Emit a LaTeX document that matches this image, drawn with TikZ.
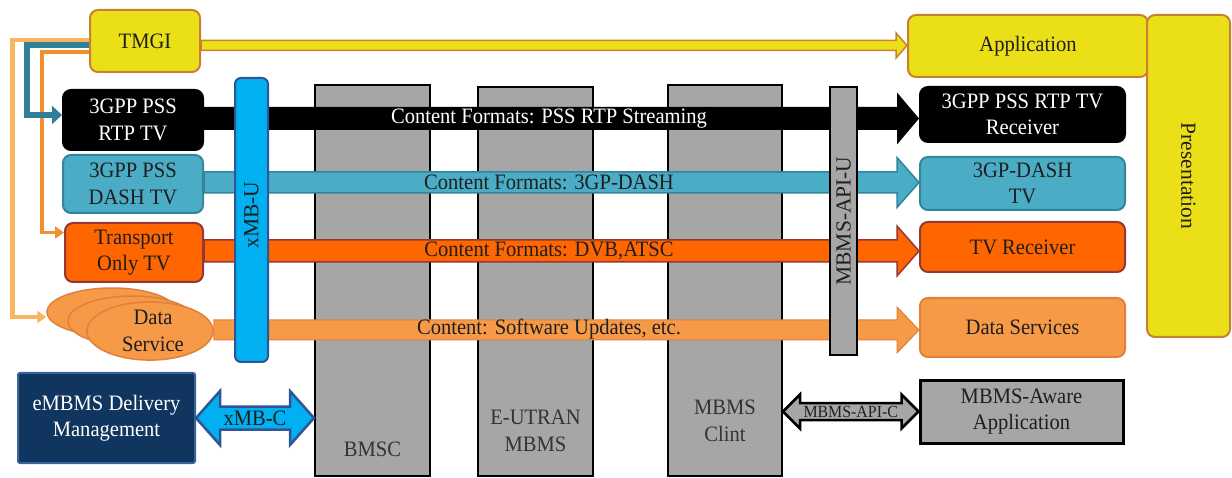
\documentclass[tikz,border=0pt]{standalone}
\usepackage{fontspec}
\setmainfont{Liberation Serif}[FakeStretch=0.935]
\newfontfamily\uprightfont{Liberation Serif}
\usetikzlibrary{calc,arrows.meta,shapes.geometric}

\definecolor{cYellow}{HTML}{EBE017}
\definecolor{cYellowEdge}{HTML}{C9812F}
\definecolor{cTeal}{HTML}{4BACC6}
\definecolor{cTealEdge}{HTML}{31859C}
\definecolor{cTealLine}{HTML}{2F7F99}
\definecolor{cOrange}{HTML}{FF6600}
\definecolor{cOrangeEdge}{HTML}{953735}
\definecolor{cLight}{HTML}{F79A48}
\definecolor{cLightEdge}{HTML}{E0803A}
\definecolor{cPale}{HTML}{F9B460}
\definecolor{cMid}{HTML}{F0902F}
\definecolor{cSky}{HTML}{00B0F0}
\definecolor{cSkyEdge}{HTML}{2F5597}
\definecolor{cGray}{HTML}{A6A6A6}
\definecolor{cNavy}{HTML}{10355F}
\definecolor{cNavyEdge}{HTML}{3A639A}
\definecolor{cInk}{HTML}{1E1E1E}
\definecolor{cColText}{HTML}{333333}

\pgfdeclarelayer{back}
\pgfdeclarelayer{mid}
\pgfsetlayers{back,mid,main}

% block arrow: #1 start, #2 tip, #3 shaft half height, #4 head half height, #5 head length, #6 style
\newcommand\flowarrow[6]{%
  \path[#6] let \p1=#1, \p2=#2 in
    (\x1,\y1+#3pt) -- (\x2-#5pt,\y1+#3pt) -- (\x2-#5pt,\y1+#4pt) -- (\x2,\y1)
    -- (\x2-#5pt,\y1-#4pt) -- (\x2-#5pt,\y1-#3pt) -- (\x1,\y1-#3pt) -- cycle;}

% double-headed block arrow, same arguments
\newcommand\twowayarrow[6]{%
  \path[#6] let \p1=#1, \p2=#2 in
    (\x1,\y1) -- (\x1+#5pt,\y1+#4pt) -- (\x1+#5pt,\y1+#3pt) -- (\x2-#5pt,\y1+#3pt)
    -- (\x2-#5pt,\y1+#4pt) -- (\x2,\y1) -- (\x2-#5pt,\y1-#4pt) -- (\x2-#5pt,\y1-#3pt)
    -- (\x1+#5pt,\y1-#3pt) -- (\x1+#5pt,\y1-#4pt) -- cycle;}

\tikzset{
  stdbox/.style={draw, rounded corners=8pt, line width=2pt, inner sep=0pt, align=center, text=cInk},
  yellowbox/.style={stdbox, fill=cYellow, draw=cYellowEdge},
  blackbox/.style={stdbox, fill=black, draw=black, text=white},
  tealbox/.style={stdbox, fill=cTeal, draw=cTealEdge},
  orangebox/.style={stdbox, fill=cOrange, draw=cOrangeEdge},
  lightbox/.style={stdbox, fill=cLight, draw=cLightEdge},
  servicecloud/.style={ellipse, draw=cLightEdge, fill=cLight, line width=1.5pt, inner sep=0pt, align=center, text=cInk},
  column/.style={rectangle, draw=black, line width=2pt, fill=cGray, inner sep=0pt},
  coltext/.style={align=center, text=cColText, inner sep=0pt},
  skybar/.style={rectangle, rounded corners=6pt, draw=cSkyEdge, line width=2pt, fill=cSky, inner sep=0pt},
  apibar/.style={rectangle, draw=black, line width=2pt, fill=cGray, inner sep=0pt},
  awarebox/.style={rectangle, draw=black, line width=3pt, fill=cGray, inner sep=0pt, align=center, text=cInk},
  navybox/.style={rectangle, rounded corners=2pt, draw=cNavyEdge, line width=2pt, fill=cNavy, inner sep=0pt, align=center, text=white},
  sidetext/.style={inner sep=0pt, text=cInk, font=\uprightfont\fontsize{21.5}{26}\selectfont},
  blackflow/.style={fill=black},
  tealflow/.style={fill=cTeal, draw=cTealEdge, line width=1.5pt},
  orangeflow/.style={fill=cOrange, draw=cOrangeEdge, line width=1.5pt},
  lightflow/.style={fill=cLight, draw=cLightEdge, line width=1pt},
  tmgiflow/.style={fill=cYellow, draw=cYellowEdge, line width=1.5pt},
  xmbcflow/.style={fill=cSky, draw=cSkyEdge, line width=2.5pt, line join=miter},
  apicflow/.style={fill=cGray, draw=black, line width=2.5pt, line join=miter},
  paleline/.style={draw=cPale, line width=4.5pt, -{Triangle[length=9pt,width=12pt]}},
  tealline/.style={draw=cTealLine, line width=6pt, -{Triangle[length=10pt,width=18pt]}},
  midline/.style={draw=cMid, line width=3.5pt, -{Triangle[length=9pt,width=12pt]}},
  flowtext/.style={inner sep=0pt, text=cInk},
}

\begin{document}
\begin{tikzpicture}[x=1pt, y=-1pt, font=\fontsize{22}{26.5}\selectfont]
\useasboundingbox (0,0) rectangle (1232,478);

% network columns behind the content flows
\begin{pgfonlayer}{back}
  \node[column, minimum width=115pt, minimum height=391pt] (bmsc)   at (372.5,280.5) {};
  \node[column, minimum width=115pt, minimum height=389pt] (eutran) at (535.5,281.5) {};
  \node[column, minimum width=114pt, minimum height=391pt] (clint)  at (725,280.5) {};
\end{pgfonlayer}
\node[coltext] at ([yshift=28pt]bmsc.south) {BMSC};
\node[coltext] at ([yshift=46pt]eutran.south) {E-UTRAN\\MBMS};
\node[coltext] at ([yshift=56pt]clint.south) {MBMS\\Clint};

% sources
\node[yellowbox, minimum width=110pt, minimum height=62pt] (tmgi) at (145,41) {TMGI};
\node[blackbox,  minimum width=140pt, minimum height=60pt] (rtp)  at (133,120) {3GPP PSS\\RTP TV};
\node[tealbox,   minimum width=140pt, minimum height=58pt] (dash) at (133,184) {3GPP PSS\\DASH TV};
\node[orangebox, minimum width=138pt, minimum height=59pt] (trans) at (134,252.5) {Transport\\Only TV};
\node[servicecloud, minimum width=130pt, minimum height=48pt] (e1) at (112,312) {};
\node[servicecloud, minimum width=128pt, minimum height=50pt] (e2) at (132,321) {};
\node[servicecloud, minimum width=126pt, minimum height=52pt] (e3) at (150,331) {\hspace*{6pt}Data\\\hspace*{6pt}Service};
\node[navybox, minimum width=177pt, minimum height=90pt] (embms) at (106.5,418) {eMBMS Delivery\\Management};

% receivers
\node[yellowbox, minimum width=240pt, minimum height=62pt] (app) at (1028,46) {Application};
\node[yellowbox, minimum width=83pt, minimum height=322pt] (pres) at (1188.5,176) {};
\node[sidetext, rotate=-90] at (pres.center) {Presentation};
\node[blackbox,  minimum width=205pt, minimum height=55pt] (rtprx)  at (1022.5,114.5) {3GPP PSS RTP TV\\Receiver};
\node[tealbox,   minimum width=205pt, minimum height=53pt] (dashrx) at (1022.5,183.5) {3GP-DASH\\TV};
\node[orangebox, minimum width=205pt, minimum height=50pt] (tvrx)   at (1022.5,247) {TV Receiver};
\node[lightbox,  minimum width=205pt, minimum height=59pt] (dsvc)   at (1022.5,327.5) {Data Services};
\node[awarebox,  minimum width=203pt, minimum height=63pt] (aware)  at (1021.5,411.5) {MBMS-Aware\\Application};

% interface bars
\node[skybar, minimum width=33pt, minimum height=284pt] (xmbu) at (251.5,220) {};
\node[sidetext, rotate=90] at ([yshift=5pt]xmbu.center) {xMB-U};
\node[apibar, minimum width=27pt, minimum height=268pt] (apiu) at (843.5,221) {};
\node[sidetext, rotate=90] at (apiu.center) {MBMS-API-U};

% content flows
\begin{pgfonlayer}{mid}
  \flowarrow{([yshift=1.5pt]rtp.east)}{(rtprx.west)}{11.5}{26}{22}{blackflow}
  \flowarrow{([yshift=1.5pt]dash.east)}{(dashrx.west)}{10.5}{25}{22}{tealflow}
  \flowarrow{([yshift=1.5pt]trans.east)}{(tvrx.west)}{11}{25}{22}{orangeflow}
  \flowarrow{([yshift=1pt]e3.east)}{(dsvc.west)}{10}{23}{22}{lightflow}
  \flowarrow{([yshift=-4.5pt]tmgi.east)}{(app.west)}{5}{12.5}{11}{tmgiflow}

  % TMGI fan-out on the left
  \draw[paleline] ([yshift=1pt]tmgi.west) -| ([xshift=-34pt,yshift=-5pt]e1.west) -- ([yshift=-5pt]e1.west);
  \draw[midline] ([yshift=-11pt]tmgi.west) -| ([xshift=-22pt,yshift=20pt]trans.west) -- ([yshift=20pt]trans.west);
  \draw[tealline] ([yshift=-4pt]tmgi.west) -| ([xshift=-35pt,yshift=5pt]rtp.west) -- ([yshift=5pt]rtp.west);
\end{pgfonlayer}

\node[flowtext, text=white] at (549,118.5) {Content Formats: PSS RTP Streaming};
\node[flowtext] at (549,182.5) {Content Formats: 3GP-DASH};
\node[flowtext] at (549,250.5) {Content Formats: DVB,ATSC};
\node[flowtext] at (549,329.5) {Content: Software Updates, etc.};

% control interfaces
\coordinate (xmbcR) at (embms.east -| bmsc.west);
\twowayarrow{(embms.east)}{(xmbcR)}{11.5}{27}{24}{xmbcflow}
\node[flowtext] at ($(embms.east)!0.5!(xmbcR)$) {xMB-C};

\coordinate (apicL) at (clint.east |- aware.west);
\twowayarrow{(apicL)}{(aware.west)}{8.5}{17}{17}{apicflow}
\node[flowtext, font=\fontsize{17}{20}\selectfont] at ($(apicL)!0.5!(aware.west)$) {MBMS-API-C};
\end{tikzpicture}
\end{document}
